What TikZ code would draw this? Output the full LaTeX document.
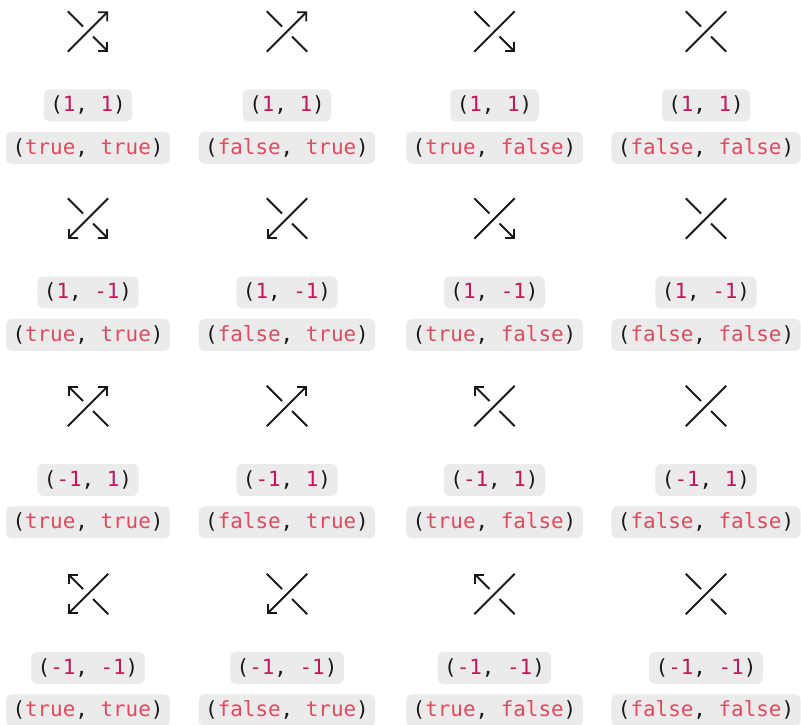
\documentclass[tikz,border=0pt]{standalone}
\usepackage{xcolor}
\usepackage{fontspec}
\setmonofont{DejaVu Sans Mono}
\usepackage{tikz}
\usetikzlibrary{arrows.meta, positioning, calc}

\definecolor{num}{HTML}{C2185B}
\definecolor{bool}{HTML}{E04A5F}
\definecolor{boxgray}{HTML}{EBEBEB}

\begin{document}
\begin{tikzpicture}[
    x=1pt, y=1pt,
    glyph/.style={rectangle, minimum size=40pt, inner sep=0pt},
    strand/.style={line width=1.9pt, draw=black!90},
    fwd/.style={-{Straight Barb[length=6.5pt, width=13pt]}},
    bwd/.style={{Straight Barb[length=6.5pt, width=13pt]}-},
    pairbox/.style={rectangle, rounded corners=6pt, fill=boxgray, minimum height=32pt, inner xsep=6.5pt, inner ysep=0pt, text=black!90, font=\ttfamily\fontsize{20.9pt}{24pt}\selectfont},
]
    \useasboundingbox (0,0) rectangle (801,-725);

    % row 1: (1, 1)
    \node[glyph] (g11) at (88,-31.5) {};
    \draw[strand, fwd] (g11.south west) -- (g11.north east);
    \draw[strand] (g11.north west) -- ($(g11)+(-5,5)$);
    \draw[strand, fwd] ($(g11)+(5,-5)$) -- (g11.south east);
    \node[glyph] (g12) at (287,-31.5) {};
    \draw[strand, fwd] (g12.south west) -- (g12.north east);
    \draw[strand] (g12.north west) -- ($(g12)+(-5,5)$);
    \draw[strand] ($(g12)+(5,-5)$) -- (g12.south east);
    \node[glyph] (g13) at (494.5,-31.5) {};
    \draw[strand] (g13.south west) -- (g13.north east);
    \draw[strand] (g13.north west) -- ($(g13)+(-5,5)$);
    \draw[strand, fwd] ($(g13)+(5,-5)$) -- (g13.south east);
    \node[glyph] (g14) at (706,-31.5) {};
    \draw[strand] (g14.south west) -- (g14.north east);
    \draw[strand] (g14.north west) -- ($(g14)+(-5,5)$);
    \draw[strand] ($(g14)+(5,-5)$) -- (g14.south east);

    \node[pairbox, below=37.5pt of g11] (a11) {(\textcolor{num}{1}, \textcolor{num}{1})};
    \node[pairbox, below=10pt of a11] (b11) {(\textcolor{bool}{true}, \textcolor{bool}{true})};
    \node[pairbox, below=37.5pt of g12] (a12) {(\textcolor{num}{1}, \textcolor{num}{1})};
    \node[pairbox, below=10pt of a12] (b12) {(\textcolor{bool}{false}, \textcolor{bool}{true})};
    \node[pairbox, below=37.5pt of g13] (a13) {(\textcolor{num}{1}, \textcolor{num}{1})};
    \node[pairbox, below=10pt of a13] (b13) {(\textcolor{bool}{true}, \textcolor{bool}{false})};
    \node[pairbox, below=37.5pt of g14] (a14) {(\textcolor{num}{1}, \textcolor{num}{1})};
    \node[pairbox, below=10pt of a14] (b14) {(\textcolor{bool}{false}, \textcolor{bool}{false})};

    % row 2: (1, -1)
    \node[glyph] (g21) at (88,-218.5) {};
    \draw[strand, bwd] (g21.south west) -- (g21.north east);
    \draw[strand] (g21.north west) -- ($(g21)+(-5,5)$);
    \draw[strand, fwd] ($(g21)+(5,-5)$) -- (g21.south east);
    \node[glyph] (g22) at (287,-218.5) {};
    \draw[strand, bwd] (g22.south west) -- (g22.north east);
    \draw[strand] (g22.north west) -- ($(g22)+(-5,5)$);
    \draw[strand] ($(g22)+(5,-5)$) -- (g22.south east);
    \node[glyph] (g23) at (494.5,-218.5) {};
    \draw[strand] (g23.south west) -- (g23.north east);
    \draw[strand] (g23.north west) -- ($(g23)+(-5,5)$);
    \draw[strand, fwd] ($(g23)+(5,-5)$) -- (g23.south east);
    \node[glyph] (g24) at (706,-218.5) {};
    \draw[strand] (g24.south west) -- (g24.north east);
    \draw[strand] (g24.north west) -- ($(g24)+(-5,5)$);
    \draw[strand] ($(g24)+(5,-5)$) -- (g24.south east);

    \node[pairbox, below=37.5pt of g21] (a21) {(\textcolor{num}{1}, \textcolor{num}{-1})};
    \node[pairbox, below=10pt of a21] (b21) {(\textcolor{bool}{true}, \textcolor{bool}{true})};
    \node[pairbox, below=37.5pt of g22] (a22) {(\textcolor{num}{1}, \textcolor{num}{-1})};
    \node[pairbox, below=10pt of a22] (b22) {(\textcolor{bool}{false}, \textcolor{bool}{true})};
    \node[pairbox, below=37.5pt of g23] (a23) {(\textcolor{num}{1}, \textcolor{num}{-1})};
    \node[pairbox, below=10pt of a23] (b23) {(\textcolor{bool}{true}, \textcolor{bool}{false})};
    \node[pairbox, below=37.5pt of g24] (a24) {(\textcolor{num}{1}, \textcolor{num}{-1})};
    \node[pairbox, below=10pt of a24] (b24) {(\textcolor{bool}{false}, \textcolor{bool}{false})};

    % row 3: (-1, 1)
    \node[glyph] (g31) at (88,-406) {};
    \draw[strand, fwd] (g31.south west) -- (g31.north east);
    \draw[strand, bwd] (g31.north west) -- ($(g31)+(-5,5)$);
    \draw[strand] ($(g31)+(5,-5)$) -- (g31.south east);
    \node[glyph] (g32) at (287,-406) {};
    \draw[strand, fwd] (g32.south west) -- (g32.north east);
    \draw[strand] (g32.north west) -- ($(g32)+(-5,5)$);
    \draw[strand] ($(g32)+(5,-5)$) -- (g32.south east);
    \node[glyph] (g33) at (494.5,-406) {};
    \draw[strand] (g33.south west) -- (g33.north east);
    \draw[strand, bwd] (g33.north west) -- ($(g33)+(-5,5)$);
    \draw[strand] ($(g33)+(5,-5)$) -- (g33.south east);
    \node[glyph] (g34) at (706,-406) {};
    \draw[strand] (g34.south west) -- (g34.north east);
    \draw[strand] (g34.north west) -- ($(g34)+(-5,5)$);
    \draw[strand] ($(g34)+(5,-5)$) -- (g34.south east);

    \node[pairbox, below=37.5pt of g31] (a31) {(\textcolor{num}{-1}, \textcolor{num}{1})};
    \node[pairbox, below=10pt of a31] (b31) {(\textcolor{bool}{true}, \textcolor{bool}{true})};
    \node[pairbox, below=37.5pt of g32] (a32) {(\textcolor{num}{-1}, \textcolor{num}{1})};
    \node[pairbox, below=10pt of a32] (b32) {(\textcolor{bool}{false}, \textcolor{bool}{true})};
    \node[pairbox, below=37.5pt of g33] (a33) {(\textcolor{num}{-1}, \textcolor{num}{1})};
    \node[pairbox, below=10pt of a33] (b33) {(\textcolor{bool}{true}, \textcolor{bool}{false})};
    \node[pairbox, below=37.5pt of g34] (a34) {(\textcolor{num}{-1}, \textcolor{num}{1})};
    \node[pairbox, below=10pt of a34] (b34) {(\textcolor{bool}{false}, \textcolor{bool}{false})};

    % row 4: (-1, -1)
    \node[glyph] (g41) at (88,-594) {};
    \draw[strand, bwd] (g41.south west) -- (g41.north east);
    \draw[strand, bwd] (g41.north west) -- ($(g41)+(-5,5)$);
    \draw[strand] ($(g41)+(5,-5)$) -- (g41.south east);
    \node[glyph] (g42) at (287,-594) {};
    \draw[strand, bwd] (g42.south west) -- (g42.north east);
    \draw[strand] (g42.north west) -- ($(g42)+(-5,5)$);
    \draw[strand] ($(g42)+(5,-5)$) -- (g42.south east);
    \node[glyph] (g43) at (494.5,-594) {};
    \draw[strand] (g43.south west) -- (g43.north east);
    \draw[strand, bwd] (g43.north west) -- ($(g43)+(-5,5)$);
    \draw[strand] ($(g43)+(5,-5)$) -- (g43.south east);
    \node[glyph] (g44) at (706,-594) {};
    \draw[strand] (g44.south west) -- (g44.north east);
    \draw[strand] (g44.north west) -- ($(g44)+(-5,5)$);
    \draw[strand] ($(g44)+(5,-5)$) -- (g44.south east);

    \node[pairbox, below=37.5pt of g41] (a41) {(\textcolor{num}{-1}, \textcolor{num}{-1})};
    \node[pairbox, below=10pt of a41] (b41) {(\textcolor{bool}{true}, \textcolor{bool}{true})};
    \node[pairbox, below=37.5pt of g42] (a42) {(\textcolor{num}{-1}, \textcolor{num}{-1})};
    \node[pairbox, below=10pt of a42] (b42) {(\textcolor{bool}{false}, \textcolor{bool}{true})};
    \node[pairbox, below=37.5pt of g43] (a43) {(\textcolor{num}{-1}, \textcolor{num}{-1})};
    \node[pairbox, below=10pt of a43] (b43) {(\textcolor{bool}{true}, \textcolor{bool}{false})};
    \node[pairbox, below=37.5pt of g44] (a44) {(\textcolor{num}{-1}, \textcolor{num}{-1})};
    \node[pairbox, below=10pt of a44] (b44) {(\textcolor{bool}{false}, \textcolor{bool}{false})};
\end{tikzpicture}
\end{document}
